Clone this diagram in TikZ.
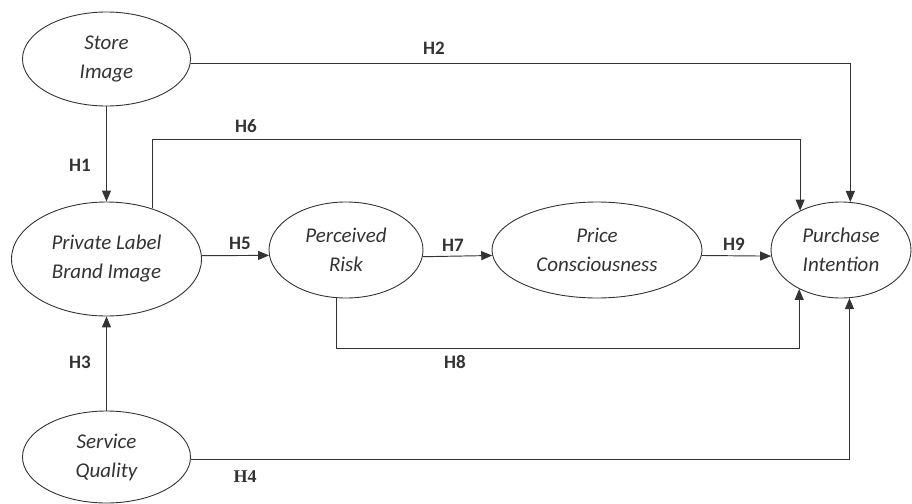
\documentclass[tikz,border=0pt]{standalone}
\usepackage{fontspec}
\setmainfont{Carlito}
\newfontfamily\hfour{Liberation Serif}
\usetikzlibrary{shapes.geometric,arrows.meta}
\definecolor{ink}{HTML}{333333}
\tikzset{
  latent/.style={ellipse, draw=ink, line width=0.9pt, inner sep=0pt, align=center,
     text=ink, font=\fontsize{21}{29}\selectfont\itshape},
  conn/.style={draw=ink, line width=0.95pt},
  arr/.style={conn, -{Triangle[length=11pt,width=9pt]}},
  hlab/.style={text=ink, font=\fontsize{19}{22}\selectfont\bfseries, inner sep=0pt}
}
\begin{document}
\begin{tikzpicture}[x=1pt,y=-1pt]
\useasboundingbox (0,0) rectangle (912,503);
\node[latent, minimum width=168pt, minimum height=94pt] (si) at (106.5,59) {Store\\Image};
\node[latent, minimum width=190pt, minimum height=114pt] (plbi) at (106.5,259) {Private Label\\Brand Image};
\node[latent, minimum width=154pt, minimum height=96pt] (pr) at (346,250) {Perceived\\Risk};
\node[latent, minimum width=210pt, minimum height=96pt] (pc) at (597,250) {Price\\Consciousness};
\node[latent, minimum width=140pt, minimum height=96pt] (pi) at (841,250) {Purchase\\Intention};
\node[latent, minimum width=168pt, minimum height=92pt] (sq) at (106.5,457) {Service\\Quality};

% connectors
\draw[arr] (si.south) -- (plbi.north);
\draw[arr] (sq.north) -- (plbi.south);
\draw[arr] (si.-3.4) -| (pi.79.3);
\draw[arr] (plbi.48.9) -- ++(0,-69.5) -| (pi.136.3);
\draw[arr] (plbi.2) -- (pr.184.5);
\draw[arr] (pr.-5.25) -- (pc.183.85);
\draw[arr] (pc.-3.85) -- (pi.185.77);
\draw[arr] (pr.259.3) -- ++(0,50.3) -| (pi.223.7);
\draw[arr] (sq.-2.7) -| (pi.280.7);

% labels
\node[hlab] (h1) at (80,165) {H1};
\node[hlab] (h2) at (434,48) {H2};
\node[hlab] (h3) at (80,362) {H3};
\node[hlab, font=\fontsize{18}{22}\selectfont\hfour\bfseries] (h4) at (245,477) {H4};
\node[hlab] (h5) at (240,243) {H5};
\node[hlab] (h6) at (246,126) {H6};
\node[hlab] (h7) at (453,245) {H7};
\node[hlab] (h8) at (455,362) {H8};
\node[hlab] (h9) at (734,244) {H9};
\end{tikzpicture}
\end{document}
